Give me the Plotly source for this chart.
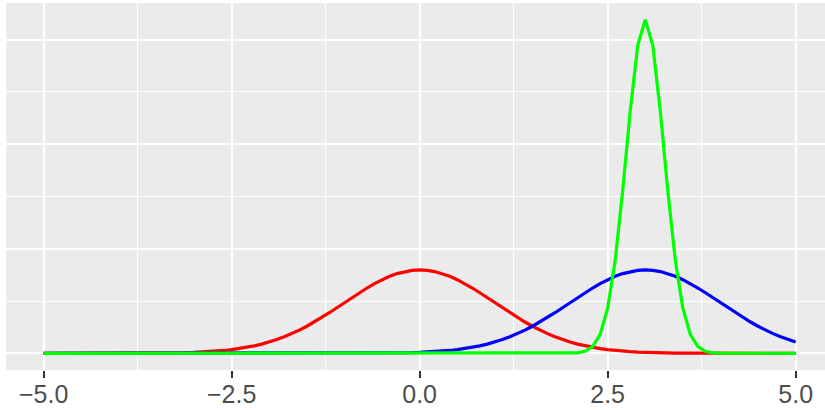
import plotly.graph_objects as go

x_vals = [
    -5.0, -4.9, -4.8, -4.7, -4.6, -4.5, -4.4, -4.3, -4.2, -4.1,
    -4.0, -3.9, -3.8, -3.7, -3.6, -3.5, -3.4, -3.3, -3.2, -3.1,
    -3.0, -2.9, -2.8, -2.7, -2.6, -2.5, -2.4, -2.3, -2.2, -2.1,
    -2.0, -1.9, -1.8, -1.7, -1.6, -1.5, -1.4, -1.3, -1.2, -1.1,
    -1.0, -0.9, -0.8, -0.7, -0.6, -0.5, -0.4, -0.3, -0.2, -0.1,
    0.0,
    0.1, 0.2, 0.3, 0.4, 0.5, 0.6, 0.7, 0.8, 0.9, 1.0,
    1.1, 1.2, 1.3, 1.4, 1.5, 1.6, 1.7, 1.8, 1.9, 2.0,
    2.1, 2.2, 2.3, 2.4, 2.5, 2.6, 2.7, 2.8, 2.9, 3.0,
    3.1, 3.2, 3.3, 3.4, 3.5, 3.6, 3.7, 3.8, 3.9, 4.0,
    4.1, 4.2, 4.3, 4.4, 4.5, 4.6, 4.7, 4.8, 4.9, 5.0,
]

red_vals = [
    0.0000, 0.0000, 0.0000, 0.0000, 0.0000, 0.0000, 0.0000, 0.0000, 0.0001, 0.0001,
    0.0001, 0.0002, 0.0003, 0.0004, 0.0006, 0.0009, 0.0012, 0.0017, 0.0024, 0.0033,
    0.0044, 0.0060, 0.0079, 0.0104, 0.0136, 0.0175, 0.0224, 0.0283, 0.0355, 0.0440,
    0.0540, 0.0656, 0.0790, 0.0940, 0.1109, 0.1295, 0.1497, 0.1714, 0.1942, 0.2179,
    0.2420, 0.2661, 0.2897, 0.3123, 0.3332, 0.3521, 0.3683, 0.3814, 0.3910, 0.3970,
    0.3989,
    0.3970, 0.3910, 0.3814, 0.3683, 0.3521, 0.3332, 0.3123, 0.2897, 0.2661, 0.2420,
    0.2179, 0.1942, 0.1714, 0.1497, 0.1295, 0.1109, 0.0940, 0.0790, 0.0656, 0.0540,
    0.0440, 0.0355, 0.0283, 0.0224, 0.0175, 0.0136, 0.0104, 0.0079, 0.0060, 0.0044,
    0.0033, 0.0024, 0.0017, 0.0012, 0.0009, 0.0006, 0.0004, 0.0003, 0.0002, 0.0001,
    0.0001, 0.0001, 0.0000, 0.0000, 0.0000, 0.0000, 0.0000, 0.0000, 0.0000, 0.0000,
]

blue_vals = [
    0.0000, 0.0000, 0.0000, 0.0000, 0.0000, 0.0000, 0.0000, 0.0000, 0.0000, 0.0000,
    0.0000, 0.0000, 0.0000, 0.0000, 0.0000, 0.0000, 0.0000, 0.0000, 0.0000, 0.0000,
    0.0000, 0.0000, 0.0000, 0.0000, 0.0000, 0.0000, 0.0000, 0.0000, 0.0000, 0.0000,
    0.0000, 0.0000, 0.0000, 0.0000, 0.0000, 0.0000, 0.0000, 0.0000, 0.0001, 0.0001,
    0.0001, 0.0002, 0.0003, 0.0004, 0.0006, 0.0009, 0.0012, 0.0017, 0.0024, 0.0033,
    0.0044,
    0.0060, 0.0079, 0.0104, 0.0136, 0.0175, 0.0224, 0.0283, 0.0355, 0.0440, 0.0540,
    0.0656, 0.0790, 0.0940, 0.1109, 0.1295, 0.1497, 0.1714, 0.1942, 0.2179, 0.2420,
    0.2661, 0.2897, 0.3123, 0.3332, 0.3521, 0.3683, 0.3814, 0.3910, 0.3970, 0.3989,
    0.3970, 0.3910, 0.3814, 0.3683, 0.3521, 0.3332, 0.3123, 0.2897, 0.2661, 0.2420,
    0.2179, 0.1942, 0.1714, 0.1497, 0.1295, 0.1109, 0.0940, 0.0790, 0.0656, 0.0540,
]

green_vals = [
    0.0000, 0.0000, 0.0000, 0.0000, 0.0000, 0.0000, 0.0000, 0.0000, 0.0000, 0.0000,
    0.0000, 0.0000, 0.0000, 0.0000, 0.0000, 0.0000, 0.0000, 0.0000, 0.0000, 0.0000,
    0.0000, 0.0000, 0.0000, 0.0000, 0.0000, 0.0000, 0.0000, 0.0000, 0.0000, 0.0000,
    0.0000, 0.0000, 0.0000, 0.0000, 0.0000, 0.0000, 0.0000, 0.0000, 0.0000, 0.0000,
    0.0000, 0.0000, 0.0000, 0.0000, 0.0000, 0.0000, 0.0000, 0.0000, 0.0000, 0.0000,
    0.0000,
    0.0000, 0.0000, 0.0000, 0.0000, 0.0000, 0.0000, 0.0000, 0.0000, 0.0000, 0.0000,
    0.0000, 0.0000, 0.0000, 0.0000, 0.0000, 0.0000, 0.0000, 0.0000, 0.0001, 0.0005,
    0.0024, 0.0095, 0.0317, 0.0896, 0.2160, 0.4437, 0.7768, 1.1588, 1.4731, 1.5958,
    1.4731, 1.1588, 0.7768, 0.4437, 0.2160, 0.0896, 0.0317, 0.0095, 0.0024, 0.0005,
    0.0001, 0.0000, 0.0000, 0.0000, 0.0000, 0.0000, 0.0000, 0.0000, 0.0000, 0.0000,
]

x_tick_vals = [-5.0, -2.5, 0.0, 2.5, 5.0]
x_tick_text = ["\u22125.0", "\u22122.5", "0.0", "2.5", "5.0"]

series = [
    ("red", red_vals, "#FF0000"),
    ("blue", blue_vals, "#0000FF"),
    ("green", green_vals, "#00FF00"),
]

fig = go.Figure()
for name, vals, color in series:
    fig.add_trace(go.Scatter(
        x=x_vals, y=vals, mode="lines", name=name,
        line=dict(color=color, width=3.2), showlegend=False,
    ))

fig.update_layout(
    width=825, height=410,
    margin=dict(l=6, r=0, t=3, b=40),
    paper_bgcolor="white",
    plot_bgcolor="#EBEBEB",
    font=dict(family="Liberation Sans, Arial, sans-serif", color="#4D4D4D"),
)
fig.update_xaxes(
    range=[-5.5, 5.39],
    tickvals=x_tick_vals, ticktext=x_tick_text,
    tickfont=dict(size=25, color="#4D4D4D"),
    ticks="outside", ticklen=7, tickwidth=2, tickcolor="#333333",
    ticklabelstandoff=-5,
    showgrid=True, gridcolor="white", gridwidth=2.2,
    minor=dict(dtick=1.25, tick0=-5, showgrid=True, gridcolor="white", gridwidth=1.1, ticks=""),
    zeroline=False, showline=False, automargin=False,
)
fig.update_yaxes(
    range=[-0.0798, 1.6756],
    tick0=0, dtick=0.5,
    showticklabels=False, ticks="",
    showgrid=True, gridcolor="white", gridwidth=2.2,
    minor=dict(dtick=0.25, tick0=0, showgrid=True, gridcolor="white", gridwidth=1.1, ticks=""),
    zeroline=False, showline=False, automargin=False,
)

fig.write_html(
    "out.html",
    config={"displayModeBar": False},
    post_script="document.body.style.margin='0';document.body.style.padding='0';",
)
